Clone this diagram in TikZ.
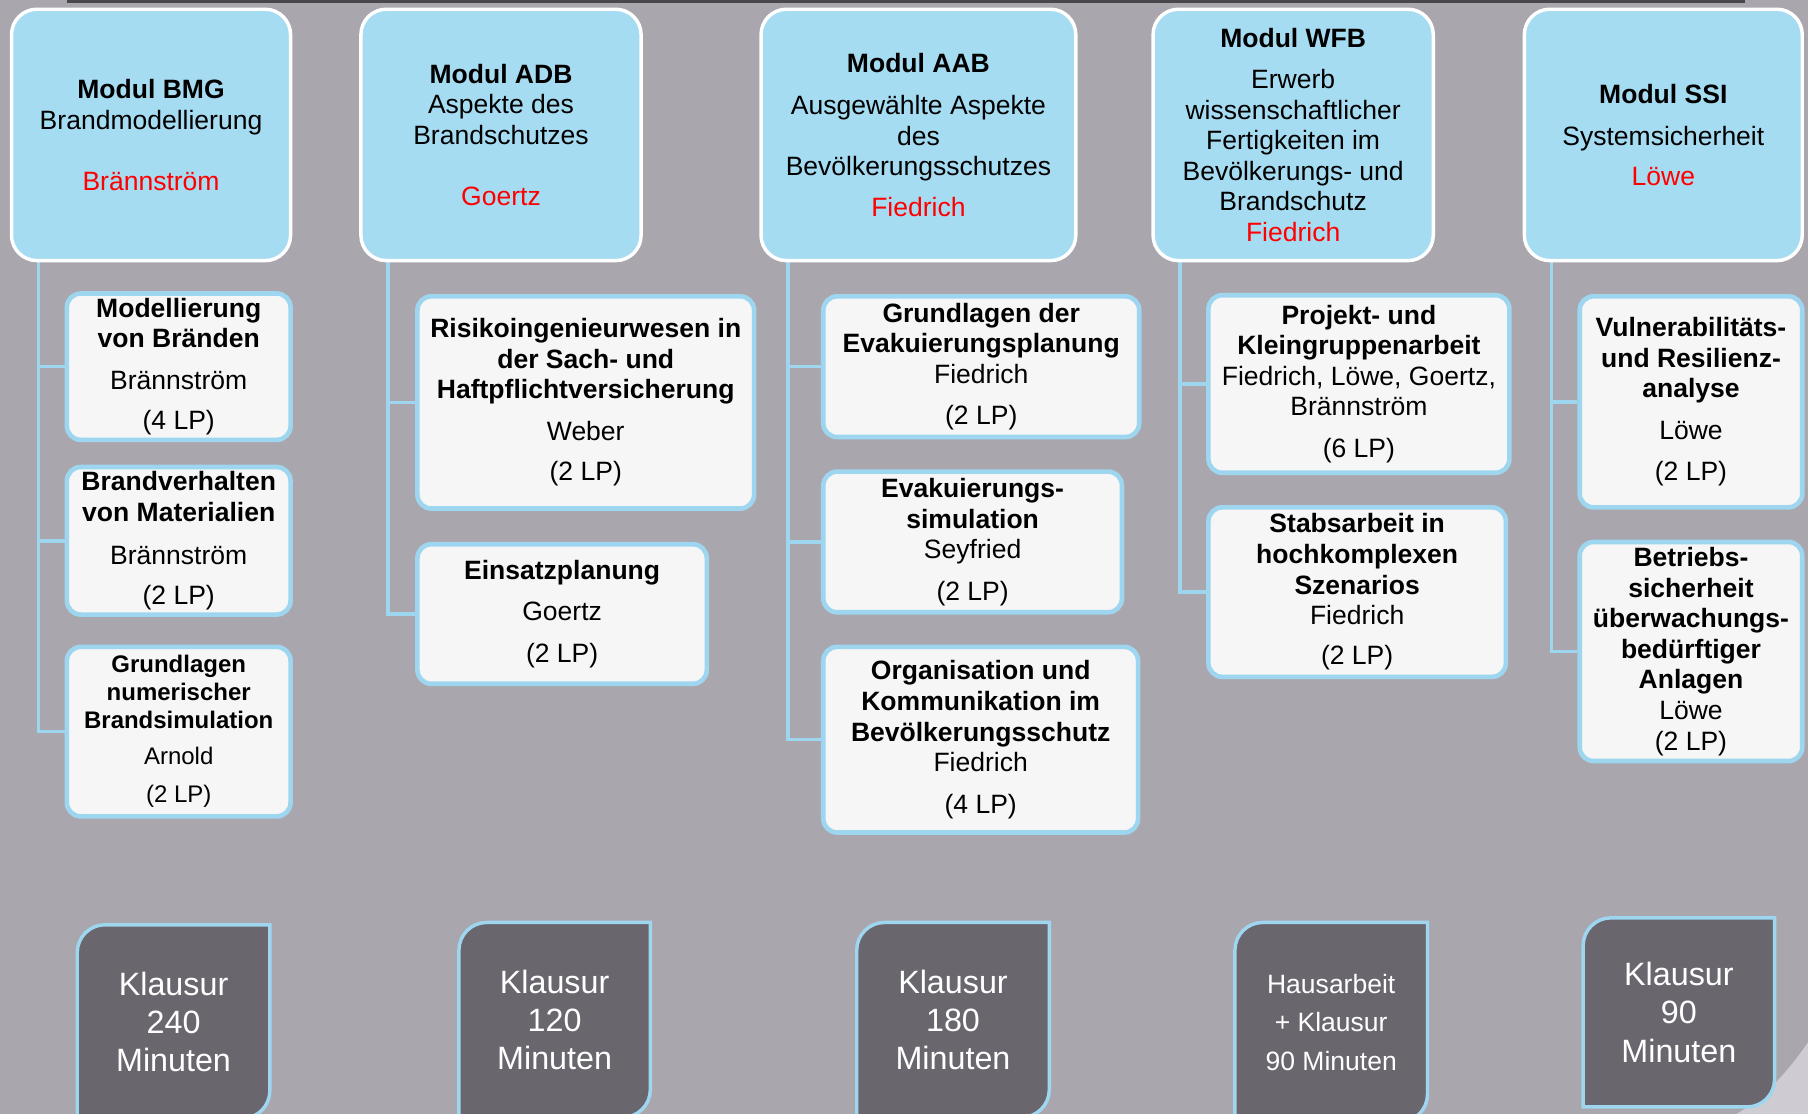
\documentclass[tikz,border=0pt]{standalone}
\usepackage{fontspec}
\setmainfont{Liberation Sans}
\usepackage{xcolor}
\usetikzlibrary{backgrounds}
\definecolor{SlideGray}{RGB}{169,166,174}
\definecolor{ModulBlue}{RGB}{166,220,242}
\definecolor{LineBlue}{RGB}{158,214,240}
\definecolor{CourseWhite}{RGB}{246,246,246}
\definecolor{ExamGray}{RGB}{105,102,110}
\definecolor{BarGray}{RGB}{72,71,76}
\definecolor{CurlGray}{RGB}{206,204,210}
\tikzset{
    module_node/.style={rectangle, rounded corners=11pt, draw=white, fill=ModulBlue, line width=1.5pt, align=center, inner sep=2pt, minimum height=109pt, font=\fontsize{11.5}{13.25}\selectfont},
    course_node/.style={rectangle, rounded corners=6pt, draw=LineBlue, fill=CourseWhite, line width=2pt, align=center, inner sep=2pt, font=\fontsize{11.5}{13.25}\selectfont},
    link_line/.style={draw=LineBlue, line width=1.5pt}
}
\begin{document}
\begin{tikzpicture}[
        x=0.5pt, y=-0.5pt,
        % --- STYLE PRUEFUNG ---
        exam_node/.style={
            rectangle,
            outer sep=0pt,
            inner sep=0pt,
            text=white,
            align=center,
            font=\fontsize{14}{16.5}\selectfont
        },
        % Form der Pruefungsbox (Ecken oben links / unten rechts rund)
        exam_shape/.style={
            fill=ExamGray,
            draw=LineBlue,
            line width=1.5pt
        }
    ]
    \useasboundingbox (0,0) rectangle (1568,966);

    % --- HINTERGRUND ---
    \begin{pgfonlayer}{background}
        \fill[SlideGray] (0,0) rectangle (1568,966);
        \fill[CurlGray] (1568,904) .. controls (1550,930) and (1530,952) .. (1506,966) -- (1568,966) -- cycle;
        \fill[BarGray] (58,0) rectangle (1513,3);
    \end{pgfonlayer}

    % --- MODULE ---
    \node[module_node, minimum width=121pt] (bmg) at (131,117)
        {\textbf{Modul BMG}\\Brandmodellierung\\[13.25pt]\textcolor{red}{Brännström}};
    \node[module_node, minimum width=121.5pt] (adb) at (434.5,117)
        {\textbf{Modul ADB}\\Aspekte des\\Brandschutzes\\[13.25pt]\textcolor{red}{Goertz}};
    \node[module_node, minimum width=136.5pt] (aab) at (796.5,117)
        {\textbf{Modul AAB}\\[5pt]Ausgewählte Aspekte\\des\\Bevölkerungsschutzes\\[4.25pt]\textcolor{red}{Fiedrich}};
    \node[module_node, minimum width=121.5pt] (wfb) at (1121.5,117)
        {\textbf{Modul WFB}\\[4.75pt]Erwerb\\wissenschaftlicher\\Fertigkeiten im\\Bevölkerungs- und\\Brandschutz\\\textcolor{red}{Fiedrich}};
    \node[module_node, minimum width=120.5pt] (ssi) at (1442.5,117)
        {\textbf{Modul SSI}\\[5pt]Systemsicherheit\\[4.25pt]\textcolor{red}{Löwe}};

    % --- LEHRVERANSTALTUNGEN ---
    % BMG
    \node[course_node, minimum width=97pt, minimum height=61pt] (bmg1) at (155,318)
        {\textbf{Modellierung}\\\textbf{von Bränden}\\[4.75pt]Brännström\\[4.25pt](4 LP)};
    \node[course_node, minimum width=97pt, minimum height=61pt] (bmg2) at (155,469)
        {\textbf{Brandverhalten}\\\textbf{von Materialien}\\[5.25pt]Brännström\\[4.25pt](2 LP)};
    \node[course_node, minimum width=97pt, minimum height=73.5pt, font=\fontsize{10.4}{12}\selectfont] (bmg3) at (155,634.5)
        {\textbf{Grundlagen}\\\textbf{numerischer}\\\textbf{Brandsimulation}\\[4pt]Arnold\\[4.5pt](2 LP)};
    % ADB
    \node[course_node, minimum width=146pt, minimum height=92pt] (adb1) at (508,349)
        {\textbf{Risikoingenieurwesen in}\\\textbf{der Sach- und}\\\textbf{Haftpflichtversicherung}\\[4.75pt]Weber\\[4.25pt](2 LP)};
    \node[course_node, minimum width=125.5pt, minimum height=60.5pt] (adb2) at (487.5,532.5)
        {\textbf{Einsatzplanung}\\[4.75pt]Goertz\\[4.75pt](2 LP)};
    % AAB
    \node[course_node, minimum width=137pt, minimum height=61pt] (aab1) at (851,318)
        {\textbf{Grundlagen der}\\\textbf{Evakuierungsplanung}\\Fiedrich\\[4.75pt](2 LP)};
    \node[course_node, minimum width=129.5pt, minimum height=61pt] (aab2) at (843.5,470)
        {\textbf{Evakuierungs-}\\\textbf{simulation}\\Seyfried\\[4.75pt](2 LP)};
    \node[course_node, minimum width=136.5pt, minimum height=80.5pt] (aab3) at (850.5,641.5)
        {\textbf{Organisation und}\\\textbf{Kommunikation im}\\\textbf{Bevölkerungsschutz}\\Fiedrich\\[4.75pt](4 LP)};
    % WFB
    \node[course_node, minimum width=130.5pt, minimum height=77pt] (wfb1) at (1178.5,333)
        {\textbf{Projekt- und}\\\textbf{Kleingruppenarbeit}\\Fiedrich, Löwe, Goertz,\\Brännström\\[4.75pt](6 LP)};
    \node[course_node, minimum width=129pt, minimum height=73.5pt] (wfb2) at (1177,513.5)
        {\textbf{Stabsarbeit in}\\\textbf{hochkomplexen}\\\textbf{Szenarios}\\Fiedrich\\[4.25pt](2 LP)};
    % SSI
    \node[course_node, minimum width=96.5pt, minimum height=91.5pt] (ssi1) at (1466.5,348.5)
        {\textbf{Vulnerabilitäts-}\\\textbf{und Resilienz-}\\\textbf{analyse}\\[4.75pt]Löwe\\[4.75pt](2 LP)};
    \node[course_node, minimum width=96.5pt, minimum height=95pt] (ssi2) at (1466.5,565)
        {\textbf{Betriebs-}\\\textbf{sicherheit}\\\textbf{überwachungs-}\\\textbf{bedürftiger}\\\textbf{Anlagen}\\Löwe\\(2 LP)};

    % --- PRUEFUNGEN ---
    \node[exam_node, minimum width=83.5pt, minimum height=84pt] (ex1) at (150.5,886) {Klausur\\240\\Minuten};
    \node[exam_node, minimum width=83pt, minimum height=84.5pt] (ex2) at (481,884.5) {Klausur\\120\\Minuten};
    \node[exam_node, minimum width=83.5pt, minimum height=84.5pt] (ex3) at (826.5,884.5) {Klausur\\180\\Minuten};
    \node[exam_node, minimum width=83.5pt, minimum height=86.5pt, font=\fontsize{11.5}{16.75}\selectfont] (ex4) at (1154.5,886.5) {Hausarbeit\\+ Klausur\\90 Minuten};
    \node[exam_node, minimum width=83pt, minimum height=82pt] (ex5) at (1456,878) {Klausur\\90\\Minuten};

    \begin{pgfonlayer}{background}
        % --- VERBINDUNGSLINIEN ---
        \foreach \m/\c in {bmg/bmg1, bmg/bmg2, bmg/bmg3, adb/adb1, adb/adb2, aab/aab1, aab/aab2, aab/aab3, wfb/wfb1, wfb/wfb2, ssi/ssi1, ssi/ssi2} {
            \draw[link_line] ([xshift=12.5pt]\m.south west) |- (\c.west);
        }
        % --- PRUEFUNGSBOXEN ---
        \foreach \ex in {ex1, ex2, ex3, ex4, ex5} {
            \draw[exam_shape] (\ex.south west) -- ([yshift=-12pt]\ex.north west)
                arc[start angle=180, end angle=90, radius=12pt] -- (\ex.north east)
                -- ([yshift=12pt]\ex.south east)
                arc[start angle=0, end angle=-90, radius=12pt] -- cycle;
        }
    \end{pgfonlayer}

\end{tikzpicture}
\end{document}
